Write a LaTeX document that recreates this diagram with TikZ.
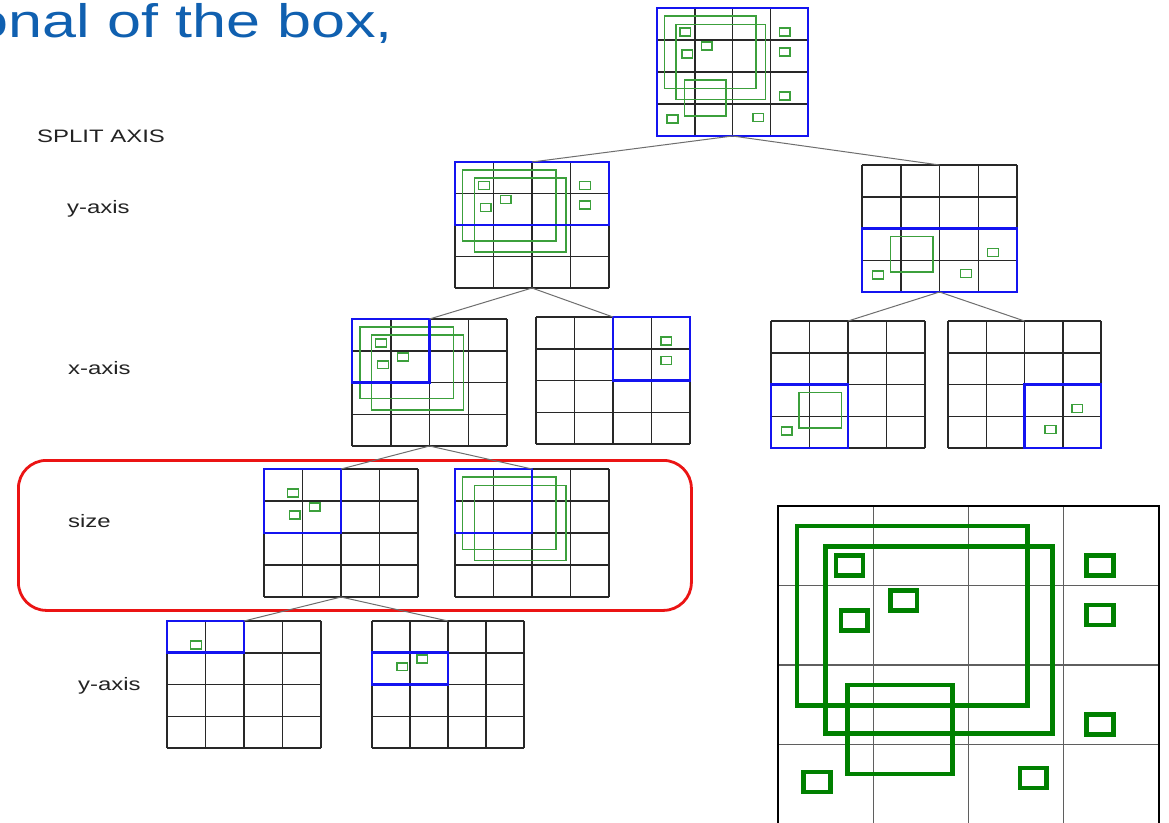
\documentclass[tikz,border=0pt]{standalone}
\usepackage{fontspec}
\setmainfont{Liberation Sans}
\definecolor{gridc}{RGB}{40,40,40}
\definecolor{blueb}{RGB}{20,20,240}
\definecolor{greenl}{RGB}{60,160,60}
\definecolor{greenD}{RGB}{0,128,0}
\definecolor{linkc}{RGB}{110,110,110}
\definecolor{labelc}{RGB}{35,35,35}
\definecolor{headc}{RGB}{16,96,176}
\definecolor{redc}{RGB}{235,20,20}
\definecolor{biggrid}{RGB}{95,95,95}
% grid: name, left, top, width, height, contents (in 4x4 grid units)
\newcommand\kdgrid[6]{%
  \node[gridnode, minimum width=#4pt, minimum height=#5pt] (#1) at (#2,#3) {};
  \begin{scope}[shift={(#2,#3)}, xscale=#4/4, yscale=#5/4]
    \foreach \k in {0,...,4}{\draw[gridln] (\k,0)--(\k,4); \draw[gridln] (0,\k)--(4,\k);}
    #6
  \end{scope}}
\newcommand\Rone{\draw[gobj] (0.20,0.25) rectangle (2.62,2.51);}
\newcommand\Rtwo{\draw[gobj] (0.50,0.51) rectangle (2.88,2.86);}
\newcommand\Rthree{\draw[gobj] (0.73,2.25) rectangle (1.83,3.37);}
\newcommand\gsq[2]{\draw[gobj] (#1-0.14,#2-0.125) rectangle (#1+0.14,#2+0.125);}
\newcommand\Sone{\gsq{0.75}{0.75}}
\newcommand\Stwo{\gsq{1.32}{1.19}}
\newcommand\Sthree{\gsq{0.80}{1.44}}
\newcommand\Sfour{\gsq{3.38}{0.75}}
\newcommand\Sfive{\gsq{3.38}{1.37}}
\newcommand\Ssix{\gsq{3.38}{2.75}}
\newcommand\Sseven{\gsq{0.41}{3.47}}
\newcommand\Seight{\gsq{2.68}{3.42}}
\newcommand\blue[4]{\draw[bluebox] (#1,#2) rectangle (#3,#4);}
\begin{document}
\begin{tikzpicture}[x=1pt,y=-1pt,
  gridln/.style={draw=gridc, line width=1.5pt},
  bluebox/.style={draw=blueb, line width=2.8pt},
  gobj/.style={draw=greenl, line width=1.5pt},
  link/.style={draw=linkc, line width=1pt},
  lbl/.style={font=\fontsize{18}{20}\selectfont, text=labelc, inner sep=0pt, anchor=base west},
  gridnode/.style={inner sep=0pt, outer sep=0pt, anchor=north west, draw=none}]
\clip (0,0) rectangle (1169,822);
\fill[white] (0,0) rectangle (1169,822);

% heading
\node[anchor=base east, text=headc, inner sep=0pt, font=\fontsize{47}{50}\selectfont] (head) at (393,37) {\scalebox{1.3}[1]{onal of the box,}};

% labels
\node[lbl] (lsplit) at (37,142) {\scalebox{1.33}[1]{SPLIT AXIS}};
\node[lbl] (ly1) at (67,213) {\scalebox{1.33}[1]{y-axis}};
\node[lbl] (lx) at (68,374) {\scalebox{1.33}[1]{x-axis}};
\node[lbl] (lsize) at (68,527) {\scalebox{1.33}[1]{size}};
\node[lbl] (ly2) at (78,690) {\scalebox{1.33}[1]{y-axis}};

% red frame
\node[draw=redc, line width=2.8pt, rounded corners=28pt, minimum width=673pt, minimum height=150pt, anchor=north west, inner sep=0pt] (sizebox) at (17,459) {};

% tree grids
\kdgrid{root}{657}{8}{151}{128}{\Rone\Rtwo\Rthree\Sone\Stwo\Sthree\Sfour\Sfive\Ssix\Sseven\Seight\blue{0}{0}{4}{4}}
\kdgrid{L1a}{455}{162}{154}{126}{\Rone\Rtwo\Sone\Stwo\Sthree\Sfour\Sfive\blue{0}{0}{4}{2}}
\kdgrid{L1b}{862}{165}{155}{127}{\Rthree\Ssix\Sseven\Seight\blue{0}{2}{4}{4}}
\kdgrid{L2a}{352}{319}{155}{127}{\Rone\Rtwo\Sone\Stwo\Sthree\blue{0}{0}{2}{2}}
\kdgrid{L2b}{536}{317}{154}{127}{\Sfour\Sfive\blue{2}{0}{4}{2}}
\kdgrid{L2c}{771}{321}{154}{127}{\Rthree\Sseven\blue{0}{2}{2}{4}}
\kdgrid{L2d}{948}{321}{153}{127}{\Ssix\Seight\blue{2}{2}{4}{4}}
\kdgrid{L3a}{264}{469}{154}{128}{\Sone\Stwo\Sthree\blue{0}{0}{2}{2}}
\kdgrid{L3b}{455}{469}{154}{128}{\Rone\Rtwo\blue{0}{0}{2}{2}}
\kdgrid{L4a}{167}{621}{154}{127}{\Sone\blue{0}{0}{2}{1}}
\kdgrid{L4b}{372}{621}{152}{127}{\Stwo\Sthree\blue{0}{1}{2}{2}}

% connectors
\draw[link] (root.south) -- (L1a.north);
\draw[link] (root.south) -- (L1b.north);
\draw[link] (L1a.south) -- (L2a.north);
\draw[link] (L1a.south) -- (L2b.north);
\draw[link] (L1b.south) -- (L2c.north);
\draw[link] (L1b.south) -- (L2d.north);
\draw[link] (L2a.south) -- (L3a.north);
\draw[link] (L2a.south) -- (L3b.north);
\draw[link] (L3a.south) -- (L4a.north);
\draw[link] (L3a.south) -- (L4b.north);

% enlarged grid
\begin{scope}[gridln/.style={draw=biggrid, line width=1.3pt},
              gobj/.style={draw=greenD, line width=4.5pt}]
\kdgrid{big}{778}{506}{381}{318}{\Rone\Rtwo\Rthree\Sone\Stwo\Sthree\Sfour\Sfive\Ssix\Sseven\Seight}
\end{scope}
\draw[black, line width=1.8pt] (big.south west) -- (big.north west) -- (big.north east) -- (big.south east);
\end{tikzpicture}
\end{document}
